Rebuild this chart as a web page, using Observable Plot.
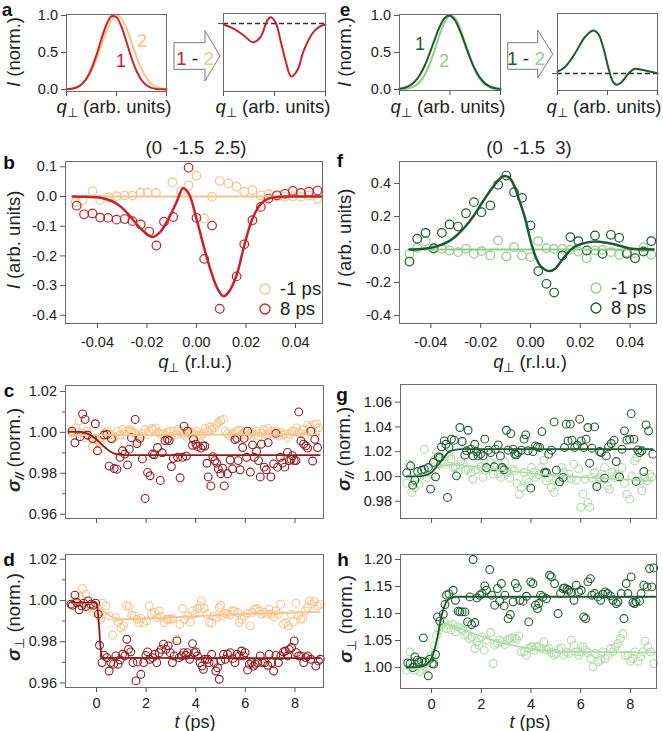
<!DOCTYPE html>
<html><head><meta charset="utf-8">
<script src="https://cdn.jsdelivr.net/npm/d3@7"></script>
<script src="https://cdn.jsdelivr.net/npm/@observablehq/plot@0.6"></script>
<style>
body{margin:0;background:#fff;}
#fig{position:relative;width:663px;height:731px;overflow:hidden;font-family:"Liberation Sans",Arial,Helvetica,sans-serif;color:#222;background:#fff;}
</style></head><body><div id="fig"></div>
<script>
// ---------------- DATA ----------------
// panel a / e : model profiles (q in arb. units)
const qModel = [-1,-0.9,-0.8,-0.7,-0.6,-0.5,-0.4,-0.3,-0.2,-0.1,0,0.1,0.2,0.3,0.4,0.5,0.6,0.7,0.8,0.9,1];
const aProfile1 = [0.003,0.0098,0.0275,0.068,0.148,0.281,0.468,0.685,0.879,0.99,0.977,0.845,0.642,0.427,0.25,0.128,0.057,0.0226,0.0078,0.0024,0.0006];
const aProfile2 = [0.0043,0.012,0.03,0.068,0.137,0.249,0.408,0.599,0.79,0.937,0.9995,0.958,0.825,0.638,0.444,0.278,0.156,0.079,0.036,0.0146,0.0053];
const eProfile1 = [0.0092,0.0228,0.0513,0.1046,0.1934,0.3247,0.494,0.682,0.854,0.969,0.998,0.932,0.79,0.607,0.423,0.267,0.153,0.0796,0.0375,0.016,0.0062];
const eProfile2 = [0.0021,0.0065,0.0184,0.0459,0.1017,0.2003,0.35,0.544,0.75,0.918,0.998,0.963,0.825,0.627,0.424,0.254,0.135,0.064,0.0269,0.01,0.0033];
const aDiffQ = [-1,-0.797,-0.601,-0.425,-0.275,-0.143,-0.078,0.02,0.118,0.216,0.327,0.445,0.575,0.739,0.869,1];
const aDiff  = [0.859,0.804,0.718,0.632,0.696,0.91,0.953,0.888,0.654,0.397,0.192,0.269,0.526,0.74,0.825,0.859];
const aBaseline = [0.872];
const eDiffQ = [-1,-0.854,-0.654,-0.454,-0.286,-0.186,-0.086,0.014,0.114,0.18,0.28,0.414,0.546,0.68,0.846,1];
const eDiff  = [0.247,0.303,0.477,0.692,0.779,0.736,0.562,0.303,0.108,0.074,0.108,0.217,0.282,0.269,0.247,0.225];
const eBaseline = [0.221];

// panel b : (0 -1.5 2.5)  [q (r.l.u.), I]
const bMinus1 = [[-0.0488,-0.018],[-0.0461,-0.012],[-0.042,0.018],[-0.0389,-0.012],[-0.0357,-0.003],[-0.0323,0.001],[-0.029,0.003],[-0.0259,0.003],[-0.0225,0.013],[-0.0198,0.013],[-0.0164,0.012],[-0.0097,0.048],[-0.0063,0.018],[-0.0032,0.037],[0,0.07],[0.0031,-0.074],[0.0063,-0.001],[0.0094,0.052],[0.0129,0.044],[0.0162,0.033],[0.0193,0.016],[0.0226,0.021],[0.026,0.004],[0.0291,0.008],[0.0325,0.001],[0.0357,-0.001],[0.0389,0.001],[0.0422,-0.001],[0.0454,0.003],[0.0489,-0.008]];
const b8ps = [[-0.0484,-0.031],[-0.0454,-0.06],[-0.042,-0.057],[-0.0389,-0.071],[-0.0357,-0.072],[-0.0323,-0.078],[-0.029,-0.076],[-0.0259,-0.083],[-0.0225,-0.094],[-0.0191,-0.118],[-0.0162,-0.165],[-0.0131,-0.085],[-0.0094,-0.069],[-0.0032,0.097],[0,-0.072],[0.0031,-0.21],[0.0063,-0.098],[0.0094,-0.378],[0.0162,-0.269],[0.0193,-0.161],[0.0226,-0.08],[0.026,-0.035],[0.0291,-0.007],[0.0325,0.004],[0.0357,0.009],[0.0389,0.019],[0.0422,0.012],[0.0454,0.016],[0.0489,0.02]];
const bFitMinus1 = [[-0.05,0],[0.0503,0]];
const bFit8ps = [[-0.05,0],[-0.0445,-0.001],[-0.0387,-0.004],[-0.034,-0.016],[-0.0305,-0.035],[-0.0275,-0.06],[-0.0245,-0.09],[-0.021,-0.12],[-0.0178,-0.136],[-0.0145,-0.118],[-0.011,-0.07],[-0.008,-0.018],[-0.0054,0.028],[-0.003,0.008],[0,-0.075],[0.003,-0.17],[0.0058,-0.25],[0.0085,-0.31],[0.0109,-0.336],[0.013,-0.322],[0.0162,-0.265],[0.0193,-0.165],[0.0226,-0.075],[0.026,-0.025],[0.029,-0.007],[0.033,-0.001],[0.04,0],[0.0503,0]];

// panel f : (0 -1.5 3)
const fMinus1 = [[-0.0486,-0.026],[-0.0455,0.01],[-0.0421,0.051],[-0.0389,0.004],[-0.0356,0.004],[-0.0325,-0.006],[-0.0291,-0.016],[-0.0259,0.004],[-0.0227,-0.026],[-0.0197,-0.01],[-0.0161,-0.036],[-0.013,0.055],[-0.0097,-0.042],[-0.0066,0.014],[-0.0034,-0.036],[0,-0.046],[0.0031,0.051],[0.0064,0.008],[0.0095,0.004],[0.0128,0.004],[0.016,-0.002],[0.0192,-0.012],[0.0226,-0.053],[0.0259,-0.006],[0.0289,-0.002],[0.0323,-0.016],[0.0356,-0.032],[0.0387,-0.018],[0.042,-0.022],[0.0454,0.014],[0.0485,-0.032]];
const f8ps = [[-0.0486,-0.073],[-0.0455,0.065],[-0.0421,0.101],[-0.0389,0.008],[-0.0356,0.101],[-0.0325,0.152],[-0.0291,0.139],[-0.0259,0.22],[-0.0227,0.287],[-0.0197,0.226],[-0.0161,0.267],[-0.013,0.392],[-0.0097,0.448],[-0.0066,0.347],[-0.0034,0.313],[0,0.145],[0.0031,-0.131],[0.0064,-0.208],[0.0095,-0.261],[0.0128,-0.036],[0.016,0.075],[0.0192,0.051],[0.0226,-0.006],[0.0259,0.085],[0.0289,-0.026],[0.0323,0.089],[0.0356,0.071],[0.0387,-0.026],[0.042,-0.053],[0.0454,-0.012],[0.0485,0.051]];
const fFitMinus1 = [[-0.0486,0],[0.0494,0]];
const fFit8ps = [[-0.0486,0],[-0.045,0.002],[-0.04,0.01],[-0.0365,0.025],[-0.033,0.048],[-0.03,0.08],[-0.0264,0.135],[-0.023,0.2],[-0.0197,0.277],[-0.016,0.36],[-0.013,0.418],[-0.011,0.444],[-0.0085,0.435],[-0.0063,0.378],[-0.0043,0.29],[-0.0023,0.196],[0.0004,0.034],[0.0025,-0.06],[0.0044,-0.107],[0.0078,-0.131],[0.01,-0.115],[0.0125,-0.067],[0.015,-0.02],[0.0179,0.018],[0.022,0.04],[0.0259,0.048],[0.03,0.042],[0.034,0.03],[0.0407,0.004],[0.045,0.001],[0.0494,0]];

// panel c : sigma_parallel, (0 -1.5 2.5)  [t (ps), value]
const cMinus1 = [[-0.99,0.9998],[-0.83,1.0022],[-0.7,1.0055],[-0.6,0.9998],[-0.5,0.9974],[-0.39,1.0006],[-0.3,0.9982],[-0.16,0.9929],[-0.07,0.9966],[0.04,0.9958],[0.15,0.995],[0.24,0.9974],[0.34,0.9998],[0.44,1.0006],[0.55,0.999],[0.65,0.9966],[0.74,0.9978],[0.85,1.0006],[0.95,0.9987],[1.05,1.0014],[1.14,0.999],[1.22,1.0006],[1.32,1.0014],[1.41,1.0006],[1.49,0.9998],[1.59,0.9994],[1.65,0.9955],[1.76,0.9982],[1.85,0.9994],[1.95,1.0014],[2.06,0.999],[2.12,1.0006],[2.22,1.0019],[2.3,1.0014],[2.39,1.0022],[2.49,0.9998],[2.59,0.999],[2.69,0.9994],[2.77,0.9987],[2.86,0.9998],[2.96,1.0006],[3.04,0.9982],[3.13,1.0006],[3.23,0.999],[3.31,1.0014],[3.4,1.0006],[3.49,0.9994],[3.58,0.9982],[3.67,0.9994],[3.76,1.0003],[3.84,0.9998],[3.94,0.999],[4.03,1.0006],[4.11,0.9987],[4.21,0.9982],[4.3,0.9994],[4.38,1.0019],[4.48,1.0006],[4.57,1.0026],[4.65,1.0014],[4.74,1.0022],[4.84,1.0034],[4.92,1.0047],[5.01,1.0058],[5.11,1.0063],[5.19,1.0006],[5.28,0.9994],[5.38,0.9982],[5.46,0.999],[5.55,0.9998],[5.65,1.0006],[5.73,1.001],[5.82,0.9987],[5.91,0.9997],[5.99,1.0006],[6.09,0.9982],[6.18,0.9994],[6.26,1.0003],[6.36,0.999],[6.45,1.0006],[6.53,0.9982],[6.63,0.9998],[6.72,1.0014],[6.8,0.999],[6.9,1.0019],[6.99,0.9994],[7.07,1.0006],[7.16,0.999],[7.26,1.0003],[7.34,0.9982],[7.43,0.9998],[7.53,0.9987],[7.61,0.9994],[7.7,0.9974],[7.8,0.999],[7.88,1.0006],[7.97,1.0006],[8.06,1.0022],[8.15,0.9998],[8.24,0.9994],[8.33,1.0014],[8.41,0.999],[8.51,1.0035],[8.6,1.0026],[8.68,1.0006],[8.78,1.0039],[8.87,1.0042],[8.95,1.0022]];
const c8ps = [[-0.99,1.0006],[-0.87,0.9949],[-0.66,0.9979],[-0.56,1.009],[-0.46,1.0063],[-0.36,0.9987],[-0.16,0.997],[-0.05,1.0042],[0.04,0.991],[0.31,0.9987],[0.42,0.999],[0.51,0.9835],[0.6,0.997],[0.71,0.9823],[0.82,0.982],[0.95,0.9878],[1.05,0.991],[1.14,0.9894],[1.25,0.9841],[1.32,0.9918],[1.41,0.9974],[1.56,1.0063],[1.63,0.9945],[1.75,0.9971],[1.85,0.987],[1.96,0.9677],[2.06,0.9804],[2.16,0.9788],[2.26,0.9894],[2.33,0.989],[2.46,0.9926],[2.57,0.9765],[2.65,0.99],[2.76,0.996],[2.86,0.9966],[2.93,0.996],[3.02,0.9833],[3.1,0.9873],[3.27,0.9878],[3.37,0.9778],[3.47,0.9878],[3.53,1.003],[3.62,0.9884],[3.67,1.0006],[3.87,0.9937],[3.91,0.9966],[4.01,0.9942],[4.07,0.9931],[4.21,0.9923],[4.29,0.9934],[4.37,0.9933],[4.45,0.9849],[4.5,0.9782],[4.61,0.9738],[4.69,0.9881],[4.77,0.9862],[4.85,0.985],[4.91,0.9822],[5.01,0.9798],[5.08,0.9825],[5.15,0.9738],[5.28,0.9798],[5.39,0.9865],[5.48,0.9822],[5.58,0.9965],[5.66,0.9971],[5.71,0.9862],[5.79,0.9817],[5.89,0.9926],[5.95,0.9971],[6.05,0.9878],[6.09,1.0006],[6.2,0.9806],[6.29,0.9939],[6.36,0.9878],[6.45,0.9907],[6.53,0.9862],[6.6,0.9782],[6.65,0.9942],[6.76,0.983],[6.84,0.9817],[6.92,0.995],[7.03,0.9782],[7.14,0.9846],[7.23,0.9995],[7.3,0.983],[7.41,0.9878],[7.5,0.985],[7.59,0.983],[7.7,0.9902],[7.77,0.9862],[7.84,0.9868],[7.9,0.9886],[7.97,0.9862],[8.04,0.9862],[8.15,1.01],[8.24,0.9958],[8.35,0.9942],[8.44,0.9934],[8.51,0.9923],[8.64,1.0006],[8.71,0.986],[8.8,0.9966],[8.91,0.9926]];
const cFitMinus1 = [[-1.1,0.9987],[9,0.999]];
const cFit8ps = [[-1.1,1.0003],[-0.6,1.0002],[-0.3,0.999],[0,0.9965],[0.3,0.993],[0.6,0.9903],[0.9,0.9891],[1.2,0.9889],[9,0.9889]];

// panel d : sigma_perp, (0 -1.5 2.5)
const dMinus1 = [[-1.01,0.9982],[-0.83,0.9994],[-0.67,1.0018],[-0.56,1.0058],[-0.43,1.0031],[-0.34,0.9974],[-0.23,0.9971],[-0.12,0.9942],[-0.03,0.9955],[0.11,0.9925],[0.17,0.9909],[0.24,0.9987],[0.38,0.9974],[0.51,0.9925],[0.65,0.9832],[0.78,0.9917],[0.87,0.9893],[0.98,0.9869],[1.09,0.9877],[1.22,0.9974],[1.32,0.9971],[1.42,0.9929],[1.52,0.9925],[1.63,0.9909],[1.72,0.9893],[1.79,0.9913],[1.9,0.989],[2.02,0.9901],[2.12,0.9974],[2.22,0.9934],[2.33,0.9942],[2.43,0.9917],[2.53,0.995],[2.59,0.9922],[2.73,0.9893],[2.82,0.9909],[2.9,0.9909],[3,0.9909],[3.08,0.9913],[3.24,0.9812],[3.36,0.9885],[3.47,0.9961],[3.56,0.9909],[3.67,0.9925],[3.78,0.9896],[3.87,0.995],[3.97,0.9934],[4.07,0.9961],[4.17,0.9974],[4.23,0.9998],[4.34,0.9961],[4.45,0.9934],[4.54,0.9893],[4.64,0.989],[4.74,0.9925],[4.85,0.9917],[4.95,0.9966],[5.01,0.9977],[5.08,0.9925],[5.17,0.9938],[5.28,0.9934],[5.39,0.9929],[5.47,0.995],[5.55,0.9947],[5.69,0.9942],[5.75,0.9893],[5.85,0.9909],[5.95,0.9925],[6.09,0.9938],[6.2,0.9877],[6.29,0.9942],[6.36,0.9958],[6.45,0.9961],[6.56,0.995],[6.65,0.9934],[6.76,0.9942],[6.9,0.9934],[6.96,0.9958],[7.06,0.9934],[7.14,0.9921],[7.23,0.995],[7.33,0.9934],[7.43,0.9982],[7.54,0.9885],[7.63,0.9893],[7.73,0.9877],[7.84,0.9934],[7.94,0.9896],[8.04,0.9987],[8.13,0.9929],[8.24,0.9909],[8.33,0.9913],[8.41,0.995],[8.51,0.9966],[8.58,0.9998],[8.68,0.9982],[8.78,0.9994],[8.91,0.9974],[9.02,0.9982]];
const d8ps = [[-1.03,0.9982],[-0.97,0.9977],[-0.87,1.0026],[-0.79,0.999],[-0.7,0.9955],[-0.6,0.9974],[-0.52,0.9987],[-0.43,0.9971],[-0.34,0.9998],[-0.23,0.9982],[-0.12,0.9977],[-0.03,0.9987],[0.07,0.9934],[0.12,0.9783],[0.22,0.9699],[0.31,0.9734],[0.42,0.9723],[0.51,0.9658],[0.58,0.9699],[0.69,0.9691],[0.78,0.9731],[0.87,0.9691],[0.95,0.9712],[1.05,0.9739],[1.14,0.9731],[1.22,0.9812],[1.29,0.9763],[1.38,0.9751],[1.47,0.9699],[1.59,0.961],[1.65,0.9702],[1.79,0.9642],[1.9,0.9699],[1.99,0.9734],[2.06,0.9751],[2.15,0.9715],[2.26,0.9723],[2.35,0.9739],[2.43,0.9699],[2.53,0.9747],[2.61,0.9763],[2.7,0.9788],[2.8,0.9763],[2.89,0.978],[2.97,0.9747],[3.06,0.9699],[3.13,0.9731],[3.24,0.9804],[3.33,0.9723],[3.43,0.9731],[3.51,0.9747],[3.6,0.9734],[3.67,0.9747],[3.76,0.9715],[3.87,0.9791],[3.94,0.9747],[4.01,0.9751],[4.07,0.9731],[4.17,0.9699],[4.25,0.9682],[4.31,0.9666],[4.37,0.9715],[4.48,0.9715],[4.54,0.9699],[4.64,0.9739],[4.74,0.9699],[4.81,0.9658],[4.88,0.9674],[4.95,0.9618],[5.01,0.9707],[5.12,0.9739],[5.19,0.9715],[5.28,0.9739],[5.39,0.9747],[5.48,0.9718],[5.58,0.9699],[5.66,0.9739],[5.75,0.9731],[5.85,0.9755],[5.93,0.9731],[5.99,0.9747],[6.09,0.9663],[6.16,0.9691],[6.25,0.9699],[6.33,0.9682],[6.4,0.9691],[6.49,0.9699],[6.6,0.9731],[6.69,0.9699],[6.79,0.9699],[6.9,0.9686],[6.96,0.9739],[7.06,0.9699],[7.14,0.9658],[7.23,0.9734],[7.33,0.9699],[7.43,0.9731],[7.54,0.9751],[7.61,0.9755],[7.7,0.9731],[7.77,0.9763],[7.86,0.9772],[7.97,0.9804],[8.06,0.9747],[8.15,0.9731],[8.24,0.9731],[8.35,0.9699],[8.44,0.9723],[8.51,0.9731],[8.64,0.9715],[8.84,0.9682],[8.94,0.9707],[9.02,0.9715]];
const dFitMinus1 = [[-1,0.9987],[-0.2,0.9987],[0,0.9975],[0.3,0.9945],[0.6,0.9922],[1,0.9909],[2,0.9912],[4,0.9924],[6,0.9934],[9,0.9945]];
const dFit8ps = [[-1,0.999],[-0.05,0.999],[0,0.9985],[0.05,0.995],[0.1,0.988],[0.15,0.979],[0.2,0.9735],[0.25,0.9722],[9,0.972]];

// panel g : sigma_parallel, (0 -1.5 3)
const gMinus1 = [[-1,0.9946],[-0.91,1.0099],[-0.8,0.9871],[-0.7,0.9911],[-0.6,0.9992],[-0.51,0.9938],[-0.4,1.004],[-0.29,1.022],[-0.2,0.9992],[-0.11,1.0072],[0,1.0019],[0.11,1.0132],[0.2,1.0193],[0.29,1.0153],[0.4,1.0126],[0.51,1.0099],[0.6,1.0185],[0.7,1.0166],[0.78,1.014],[0.87,1.0072],[0.96,1.0078],[1.07,1.0032],[1.18,1.0126],[1.27,1.0099],[1.37,1.0051],[1.47,1.0059],[1.58,1.0032],[1.67,0.9979],[1.77,1.0051],[1.87,1.0059],[1.98,1.0078],[2.07,0.9992],[2.17,1.0051],[2.28,1.0059],[2.38,1.0113],[2.48,1.0019],[2.57,1.0099],[2.68,1.0024],[2.78,0.9992],[2.88,1.0072],[2.95,1.0113],[3.05,1.0032],[3.15,0.9992],[3.24,1.0059],[3.35,1.0046],[3.44,0.9944],[3.53,0.9858],[3.61,0.9911],[3.72,1.0032],[3.82,0.9979],[3.91,0.9952],[4.02,1.0072],[4.11,1.0032],[4.2,0.9992],[4.31,1.0013],[4.42,1.0072],[4.52,1.0132],[4.62,0.9965],[4.71,0.9992],[4.82,0.9911],[4.93,0.9871],[5.02,0.9979],[5.11,0.9938],[5.22,1.0072],[5.33,1.0032],[5.42,0.9987],[5.52,1.0019],[5.62,0.9979],[5.73,1.0099],[5.82,0.997],[5.92,1.0059],[6,0.975],[6.09,0.9858],[6.18,0.9979],[6.29,0.9791],[6.36,0.975],[6.45,0.9992],[6.56,1.0032],[6.65,0.9938],[6.76,0.9992],[6.85,1.0019],[6.96,1.0072],[7.07,0.9925],[7.16,0.9898],[7.26,1.0032],[7.36,0.9992],[7.47,1.0019],[7.56,1.0005],[7.66,1.0072],[7.76,0.9944],[7.86,0.9858],[7.97,0.9817],[8.06,1.0005],[8.17,1.0126],[8.27,1.0153],[8.37,0.9965],[8.46,0.9885],[8.57,0.9992],[8.67,0.9965],[8.77,1.0019],[8.86,0.9997]];
const g8ps = [[-1,1.003],[-0.84,1.0086],[-0.76,0.993],[-0.67,0.997],[-0.56,1.004],[-0.4,1.0051],[-0.29,1.0059],[-0.13,1.0072],[-0.04,0.9898],[0.07,1.0113],[0.16,0.9997],[0.27,1.0158],[0.33,1.0153],[0.4,1.0239],[0.51,1.0287],[0.58,1.026],[0.64,0.9831],[0.7,1.0234],[0.8,1.0301],[0.91,1.0293],[1,1.0005],[1.14,1.0395],[1.23,1.0282],[1.34,1.0172],[1.41,1.0207],[1.47,1.0373],[1.58,1.022],[1.67,1.0166],[1.74,1.026],[1.81,1.0201],[1.87,1.0166],[1.97,1.018],[2.07,1.0166],[2.14,1.0301],[2.21,1.0072],[2.28,1.0212],[2.38,1.0193],[2.52,1.0078],[2.57,1.022],[2.68,1.0255],[2.77,1.0166],[2.84,1.0072],[2.92,1.0054],[3.01,1.0373],[3.08,1.0212],[3.19,1.0346],[3.28,1.022],[3.35,1.018],[3.41,1.0175],[3.48,1.0193],[3.61,1.0212],[3.72,1.0301],[3.79,1.0336],[3.88,1.0207],[3.99,0.9906],[4.08,1.0201],[4.18,1.0247],[4.26,1.0239],[4.35,1.0234],[4.44,1.0362],[4.55,1.0032],[4.62,1.0032],[4.71,1.018],[4.82,1.0212],[4.93,1.044],[5.02,1.0051],[5.15,0.9957],[5.29,0.9992],[5.35,1.0234],[5.42,1.0422],[5.49,1.0287],[5.58,1.0422],[5.65,1.0293],[5.76,1.0234],[5.86,1.0252],[5.96,1.0462],[6.02,1.0287],[6.12,1.0234],[6.22,1.0301],[6.29,1.0395],[6.36,1.0107],[6.45,1.0228],[6.56,1.04],[6.65,0.9919],[6.76,1.0201],[6.83,1.0193],[6.96,0.9987],[7.03,1.0166],[7.12,1.0239],[7.23,1.0266],[7.34,1.0293],[7.43,1.0121],[7.56,0.9997],[7.66,1.022],[7.76,1.0368],[7.86,1.0293],[7.97,1.0301],[8.03,1.0507],[8.14,1.0301],[8.23,0.996],[8.3,1.0215],[8.37,1.0193],[8.46,1.0207],[8.54,1.004],[8.63,1.0416],[8.73,1.0368],[8.9,1.018]];
const gFitMinus1 = [[-1,1],[-0.3,1.001],[0.2,1.007],[0.67,1.0094],[1.2,1.009],[2,1.0072],[3.35,1.004],[4.7,1.0013],[6.7,0.9987],[8.9,0.9965]];
const gFit8ps = [[-1,1],[-0.4,1.0003],[0,1.0032],[0.2,1.008],[0.4,1.0126],[0.67,1.0193],[0.94,1.0215],[1.2,1.022],[8.9,1.022]];

// panel h : sigma_perp, (0 -1.5 3)
const hMinus1 = [[-1,0.9951],[-0.87,1.029],[-0.78,1.0105],[-0.67,0.9951],[-0.56,1.0043],[-0.47,0.992],[-0.37,0.9969],[-0.27,1.0074],[-0.2,1.0012],[-0.11,1.0148],[0,1.0228],[0.11,1.0401],[0.2,1.0598],[0.29,1.0691],[0.4,1.0784],[0.51,1.0845],[0.6,1.0722],[0.7,1.0784],[0.78,1.0691],[0.87,1.0796],[0.96,1.066],[1.07,1.0753],[1.18,1.0722],[1.27,1.0691],[1.34,1.0598],[1.45,1.0598],[1.54,1.0537],[1.63,1.0568],[1.74,1.0352],[1.82,1.0475],[1.9,1.0413],[2.01,1.0568],[2.12,1.0321],[2.21,1.0506],[2.38,1.0648],[2.48,1.0074],[2.54,1.0413],[2.65,1.0444],[2.74,1.0506],[2.84,1.0475],[2.95,1.0426],[3.05,1.0506],[3.15,1.0537],[3.24,1.0549],[3.35,1.0549],[3.41,1.0524],[3.51,1.0586],[3.61,1.029],[3.72,1.029],[3.82,1.0228],[3.91,1.0352],[4.02,1.0383],[4.12,1.0321],[4.22,1.0383],[4.31,1.0383],[4.42,1.0352],[4.52,1.0475],[4.62,1.0321],[4.71,1.0352],[4.82,1.0278],[4.93,1.0228],[5.02,1.0259],[5.11,1.0339],[5.22,1.0364],[5.33,1.0228],[5.42,1.029],[5.52,1.0259],[5.62,1.0506],[5.73,1.0413],[5.82,1.029],[5.92,1.0228],[6,1.029],[6.09,1.0383],[6.18,1.0321],[6.29,1.0278],[6.4,1.0167],[6.49,1.0012],[6.59,1.0259],[6.69,1.0105],[6.8,1.0136],[6.89,1.029],[6.99,1.0167],[7.1,1.0228],[7.2,1.0352],[7.3,1.029],[7.39,1.0383],[7.5,1.0444],[7.6,1.0537],[7.7,1.0629],[7.79,1.0228],[7.9,1.0228],[8.01,1.0117],[8.1,1.0167],[8.19,1.029],[8.3,1.0117],[8.41,1.0197],[8.5,1.029],[8.59,1.0487],[8.7,1.0383],[8.81,1.029],[8.94,1.0074]];
const h8ps = [[-0.96,1.0086],[-0.86,1.0074],[-0.76,1],[-0.67,1.0197],[-0.58,1.0136],[-0.51,1.0105],[-0.4,1.0117],[-0.33,1.0549],[-0.24,1.0105],[-0.13,0.9846],[-0.07,1.0154],[0.03,1.0074],[0.09,1.0062],[0.16,1.0241],[0.24,1.0938],[0.33,1.0858],[0.47,1.0987],[0.54,1.1166],[0.6,1.1339],[0.7,1.1364],[0.87,1.1431],[0.96,1.1246],[1.07,1.1043],[1.14,1.103],[1.23,1.103],[1.34,1.103],[1.45,1.0845],[1.54,1.1308],[1.61,1.0796],[1.67,1.2],[1.74,1.0833],[1.83,1.129],[1.94,1.1339],[2.03,1.137],[2.14,1.1512],[2.21,1.1431],[2.34,1.1814],[2.41,1.1339],[2.54,1.1154],[2.65,1.1462],[2.74,1.1228],[2.81,1.1555],[2.92,1.1141],[2.95,1.1339],[3.08,1.0907],[3.17,1.0981],[3.28,1.1216],[3.37,1.1555],[3.45,1.1475],[3.55,1.1246],[3.68,1.1228],[3.82,1.132],[3.91,1.0845],[3.99,1.1586],[4.08,1.1555],[4.18,1.1154],[4.26,1.1092],[4.31,1.1185],[4.39,1.1339],[4.48,1.1308],[4.62,1.1277],[4.75,1.1709],[4.82,1.1678],[4.95,1.1555],[5.09,1.0999],[5.19,1.137],[5.29,1.1462],[5.35,1.1475],[5.45,1.145],[5.52,1.1431],[5.62,1.1389],[5.73,1.1246],[5.82,1.1524],[5.92,1.14],[6.02,1.1431],[6.12,1.0938],[6.2,1.0907],[6.29,1.1586],[6.39,1.1647],[6.45,1.1339],[6.56,1.137],[6.69,1.1308],[6.8,1.1246],[6.89,1.1357],[6.99,1.14],[7.09,1.137],[7.2,1.1327],[7.3,1.1246],[7.43,1.1185],[7.5,1.1216],[7.63,1.137],[7.74,1.0907],[7.83,1.1555],[7.9,1.137],[8.03,1.1678],[8.1,1.1203],[8.17,1.1185],[8.23,1.1216],[8.37,1.1228],[8.43,1.137],[8.54,1.1524],[8.67,1.1493],[8.77,1.1833],[8.86,1.1493],[8.94,1.1845]];
const hFitMinus1 = [[-1,0.998],[-0.3,1],[0,1.017],[0.2,1.05],[0.54,1.081],[1.34,1.069],[2.68,1.0475],[4,1.035],[5.35,1.029],[9,1.028]];
const hFit8ps = [[-1,1],[-0.5,1.001],[-0.2,1.006],[0,1.017],[0.2,1.048],[0.4,1.095],[0.6,1.122],[0.8,1.129],[1,1.131],[9,1.131]];

// tick values
const profTicks = [0, 0.5, 1];
const qTicksModel = [-1, 0, 1];
const qTicks = [-0.04, -0.02, 0, 0.02, 0.04];
const bYTicks = [0.1, 0, -0.1, -0.2, -0.3, -0.4];
const fYTicks = [0.4, 0.2, 0, -0.2, -0.4];
const cdYTicks = [1.02, 1.00, 0.98, 0.96];
const cdYMinor = [1.01, 0.99, 0.97];
const gYTicks = [1.06, 1.04, 1.02, 1.00, 0.98];
const hYTicks = [1.20, 1.15, 1.10, 1.05, 1.00];
const tTicks = [0, 2, 4, 6, 8];

// ---------------- STYLE ----------------
const FONT = '"Liberation Sans", Arial, Helvetica, sans-serif';
const ORANGE = "#f8c38b", RED = "#c8232b", DRED = "#8d1c20";
const DGREEN = "#1e5a31", LGREEN = "#8fcd87", LGREEN2 = "#aedca5";
const FRAME = "#6b6b6b", TICK = "#555", TXT = "#222";
const fig = document.getElementById("fig");

function panel(o) {
  const [fx, fy, fw, fh] = o.frame;
  const ml = 60, mr = 6, mt = 6, mb = 34;
  const marks = [...o.marks, Plot.frame({stroke: FRAME, strokeWidth: 1})];
  if (o.yTicks) marks.push(Plot.axisY(o.yTicks, {anchor: "left", tickSize: 5, tickPadding: 3.5, tickFormat: o.yFmt || (() => ""), label: null, stroke: TICK, fill: TXT}));
  if (o.yMinor) marks.push(Plot.axisY(o.yMinor, {anchor: "left", tickSize: 3, tickFormat: () => "", label: null, stroke: TICK}));
  if (o.xTicks) marks.push(Plot.axisX(o.xTicks, {anchor: "bottom", tickSize: 5, tickPadding: o.xPad || 8, tickFormat: o.xFmt || (() => ""), label: null, stroke: TICK, fill: TXT}));
  const svg = Plot.plot({
    width: fw + ml + mr, height: fh + mt + mb,
    marginLeft: ml, marginRight: mr, marginTop: mt, marginBottom: mb,
    x: {domain: o.x, axis: null}, y: {domain: o.y, axis: null},
    style: {fontFamily: FONT, fontSize: "14.5px", background: "transparent", color: TXT, overflow: "visible"},
    marks
  });
  svg.style.position = "absolute";
  svg.style.left = (fx - ml) + "px";
  svg.style.top = (fy - mt) + "px";
  fig.appendChild(svg);
}

function txt(html, x, y, o = {}) {
  const d = document.createElement("div");
  d.innerHTML = html;
  const tr = o.anchor === "start" ? "translate(0,-50%)" : "translate(-50%,-50%)";
  d.style.cssText = `position:absolute;left:${x}px;top:${y}px;white-space:pre;line-height:1;font-size:${o.size || 18.5}px;color:${o.color || TXT};font-weight:${o.weight || "normal"};transform:${tr}${o.rot ? " rotate(-90deg)" : ""};`;
  fig.appendChild(d);
}
function legendDot(x, y, color) {
  const ns = "http://www.w3.org/2000/svg";
  const s = document.createElementNS(ns, "svg");
  s.setAttribute("width", 14); s.setAttribute("height", 14);
  s.style.cssText = `position:absolute;left:${x - 7}px;top:${y - 7}px;`;
  const c = document.createElementNS(ns, "circle");
  c.setAttribute("cx", 7); c.setAttribute("cy", 7); c.setAttribute("r", 5);
  c.setAttribute("fill", "none"); c.setAttribute("stroke", color); c.setAttribute("stroke-width", 1.3);
  s.appendChild(c); fig.appendChild(s);
}
function arrow(x0, xh, xt, yTop, yBot, yHt, yHb) {
  const ns = "http://www.w3.org/2000/svg";
  const s = document.createElementNS(ns, "svg");
  s.setAttribute("width", 663); s.setAttribute("height", 120);
  s.style.cssText = "position:absolute;left:0;top:0;";
  const p = document.createElementNS(ns, "polygon");
  const ym = (yHt + yHb) / 2;
  p.setAttribute("points", `${x0},${yTop} ${xh},${yTop} ${xh},${yHt} ${xt},${ym} ${xh},${yHb} ${xh},${yBot} ${x0},${yBot}`);
  p.setAttribute("fill", "#fff"); p.setAttribute("stroke", "#777"); p.setAttribute("stroke-width", 1);
  s.appendChild(p); fig.appendChild(s);
}

const f1 = d => d.toFixed(1), f2 = d => d.toFixed(2), f0 = d => d.toFixed(0);
const X = d => d[0], Y = d => d[1];
const sub = s => `<span style="font-size:0.72em;position:relative;top:0.32em">${s}</span>`;
const qLab = `<i>q</i>${sub("⊥")}`;

// ---------------- PANELS ----------------
// a
panel({frame: [66, 14, 100, 77], x: [-1, 1], y: [-0.027, 1.0135], yTicks: profTicks, yFmt: f1, xTicks: qTicksModel,
  marks: [
    Plot.line(qModel, {x: qModel, y: aProfile2, stroke: ORANGE, strokeWidth: 2, curve: "catmull-rom"}),
    Plot.line(qModel, {x: qModel, y: aProfile1, stroke: RED, strokeWidth: 2, curve: "catmull-rom"})
  ]});
panel({frame: [223, 13, 102, 78], x: [-1, 1], y: [0, 1], xTicks: qTicksModel, yTicks: aBaseline,
  marks: [
    Plot.ruleY(aBaseline, {stroke: "#333", strokeWidth: 1.3, strokeDasharray: "5,3"}),
    Plot.line(aDiffQ, {x: aDiffQ, y: aDiff, stroke: RED, strokeWidth: 2, curve: "catmull-rom"})
  ]});
// e
panel({frame: [399, 14, 101, 76], x: [-1, 1], y: [-0.0135, 1.0135], yTicks: profTicks, yFmt: f1, xTicks: qTicksModel,
  marks: [
    Plot.line(qModel, {x: qModel, y: eProfile2, stroke: LGREEN, strokeWidth: 2, curve: "catmull-rom"}),
    Plot.line(qModel, {x: qModel, y: eProfile1, stroke: DGREEN, strokeWidth: 2, curve: "catmull-rom"})
  ]});
panel({frame: [557, 13, 100, 77], x: [-1, 1], y: [0, 1], xTicks: qTicksModel, yTicks: eBaseline,
  marks: [
    Plot.ruleY(eBaseline, {stroke: "#333", strokeWidth: 1.3, strokeDasharray: "5,3"}),
    Plot.line(eDiffQ, {x: eDiffQ, y: eDiff, stroke: DGREEN, strokeWidth: 2, curve: "catmull-rom"})
  ]});
// b
panel({frame: [65, 161, 257, 162], x: [-0.0529, 0.0509], y: [-0.4276, 0.1178], yTicks: bYTicks, yFmt: f1, xTicks: qTicks, xFmt: f2, xPad: 8,
  marks: [
    Plot.dot(bMinus1, {x: X, y: Y, r: 4.3, stroke: ORANGE, strokeWidth: 1.2}),
    Plot.dot(b8ps, {x: X, y: Y, r: 4.3, stroke: RED, strokeWidth: 1.2}),
    Plot.line(bFitMinus1, {x: X, y: Y, stroke: ORANGE, strokeWidth: 2.2}),
    Plot.line(bFit8ps, {x: X, y: Y, stroke: RED, strokeWidth: 2.5, curve: "catmull-rom"})
  ]});
// f
panel({frame: [399, 161, 257, 162], x: [-0.0526, 0.0506], y: [-0.4485, 0.5333], yTicks: fYTicks, yFmt: f1, xTicks: qTicks, xFmt: f2, xPad: 8,
  marks: [
    Plot.dot(fMinus1, {x: X, y: Y, r: 4.3, stroke: LGREEN, strokeWidth: 1.2}),
    Plot.dot(f8ps, {x: X, y: Y, r: 4.3, stroke: DGREEN, strokeWidth: 1.2}),
    Plot.line(fFitMinus1, {x: X, y: Y, stroke: LGREEN, strokeWidth: 2.2}),
    Plot.line(fFit8ps, {x: X, y: Y, stroke: DGREEN, strokeWidth: 2.5, curve: "catmull-rom"})
  ]});
// c
panel({frame: [65, 385, 258, 133], x: [-1.25, 9.15], y: [0.9579, 1.0229], yTicks: cdYTicks, yMinor: cdYMinor, yFmt: f2, xTicks: tTicks,
  marks: [
    Plot.dot(cMinus1, {x: X, y: Y, r: 3.9, stroke: ORANGE, strokeWidth: 1.1}),
    Plot.dot(c8ps, {x: X, y: Y, r: 3.9, stroke: DRED, strokeWidth: 1.1}),
    Plot.line(cFitMinus1, {x: X, y: Y, stroke: ORANGE, strokeWidth: 1.8}),
    Plot.line(cFit8ps, {x: X, y: Y, stroke: DRED, strokeWidth: 1.8, curve: "monotone-x"})
  ]});
// d
panel({frame: [65, 554, 258, 133], x: [-1.25, 9.15], y: [0.9578, 1.0223], yTicks: cdYTicks, yMinor: cdYMinor, yFmt: f2, xTicks: tTicks, xFmt: f0, xPad: 5,
  marks: [
    Plot.dot(dMinus1, {x: X, y: Y, r: 3.9, stroke: ORANGE, strokeWidth: 1.1}),
    Plot.dot(d8ps, {x: X, y: Y, r: 3.9, stroke: DRED, strokeWidth: 1.1}),
    Plot.line(dFitMinus1, {x: X, y: Y, stroke: ORANGE, strokeWidth: 1.8, curve: "monotone-x"}),
    Plot.line(dFit8ps, {x: X, y: Y, stroke: DRED, strokeWidth: 1.8, curve: "monotone-x"})
  ]});
// g
panel({frame: [400, 384, 256, 134], x: [-1.25, 9.05], y: [0.9661, 1.0742], yTicks: gYTicks, yFmt: f2, xTicks: tTicks,
  marks: [
    Plot.dot(gMinus1, {x: X, y: Y, r: 3.9, stroke: LGREEN2, strokeWidth: 1.1}),
    Plot.dot(g8ps, {x: X, y: Y, r: 3.9, stroke: DGREEN, strokeWidth: 1.1}),
    Plot.line(gFitMinus1, {x: X, y: Y, stroke: LGREEN2, strokeWidth: 1.8, curve: "monotone-x"}),
    Plot.line(gFit8ps, {x: X, y: Y, stroke: DGREEN, strokeWidth: 1.8, curve: "monotone-x"})
  ]});
// h
panel({frame: [400, 554, 256, 134], x: [-1.25, 9.05], y: [0.9611, 1.2093], yTicks: hYTicks, yFmt: f2, xTicks: tTicks, xFmt: f0, xPad: 5,
  marks: [
    Plot.dot(hMinus1, {x: X, y: Y, r: 3.9, stroke: LGREEN2, strokeWidth: 1.1}),
    Plot.dot(h8ps, {x: X, y: Y, r: 3.9, stroke: DGREEN, strokeWidth: 1.1}),
    Plot.line(hFitMinus1, {x: X, y: Y, stroke: LGREEN2, strokeWidth: 1.8, curve: "monotone-x"}),
    Plot.line(hFit8ps, {x: X, y: Y, stroke: DGREEN, strokeWidth: 1.8, curve: "monotone-x"})
  ]});

// ---------------- ANNOTATIONS ----------------
arrow(174, 205, 220, 42.7, 69.3, 30.7, 81);
arrow(507.7, 537.7, 552.7, 42.7, 69.3, 30, 78);
txt(`<span style="color:${RED}">1</span> - <span style="color:${ORANGE}">2</span>`, 195, 58, {size: 19});
txt(`<span style="color:${DGREEN}">1</span> - <span style="color:${LGREEN}">2</span>`, 526, 58, {size: 19});
txt("2", 142, 41, {size: 18, color: ORANGE});
txt("1", 121, 61, {size: 18, color: RED});
txt("1", 420, 44, {size: 18, color: DGREEN});
txt("2", 444, 61, {size: 18, color: LGREEN});

// panel letters
[["a", 7, 9], ["b", 9, 162], ["c", 9, 390], ["d", 9, 559], ["e", 345, 9], ["f", 340, 160], ["g", 342, 394], ["h", 343, 559]]
  .forEach(([s, x, y]) => txt(s, x, y, {size: 19, weight: "bold", color: "#111"}));

// titles
txt("(0  -1.5  2.5)", 196, 148);
txt("(0  -1.5  3)", 529, 148);

// axis labels
const Ilab = `<i>I</i>`;
txt(`${Ilab} (norm.)`, 14, 52, {rot: true});
txt(`${Ilab} (norm.)`, 345, 52, {rot: true});
txt(`${qLab} (arb. units)`, 114, 107);
txt(`${qLab} (arb. units)`, 273, 107);
txt(`${qLab} (arb. units)`, 448, 107);
txt(`${qLab} (arb. units)`, 604, 107);
txt(`${Ilab} (arb. units)`, 14, 240, {rot: true});
txt(`${Ilab} (arb. units)`, 345, 238, {rot: true});
txt(`${qLab} (r.l.u.)`, 195, 362);
txt(`${qLab} (r.l.u.)`, 530, 362);
const sigPar = `<b><i>σ</i></b><span style="font-size:0.7em;position:relative;top:0.32em;font-style:italic;font-weight:bold">//</span>`;
const sigPerp = `<b><i>σ</i></b>${sub("⊥")}`;
txt(`${sigPar} (norm.)`, 14, 450, {rot: true});
txt(`${sigPerp} (norm.)`, 14, 617, {rot: true});
txt(`${sigPar} (norm.)`, 344, 449, {rot: true});
txt(`${sigPerp} (norm.)`, 346, 619, {rot: true});
txt(`<i>t</i> (ps)`, 195, 721.5, {size: 18});
txt(`<i>t</i> (ps)`, 530, 721.5, {size: 18});

// legends
legendDot(265, 289, ORANGE); txt("-1 ps", 280, 289, {anchor: "start"});
legendDot(265, 309, RED); txt("8 ps", 280, 309, {anchor: "start"});
legendDot(596, 288, LGREEN); txt("-1 ps", 611, 288, {anchor: "start"});
legendDot(596, 308, DGREEN); txt("8 ps", 611, 308, {anchor: "start"});
</script></body></html>
